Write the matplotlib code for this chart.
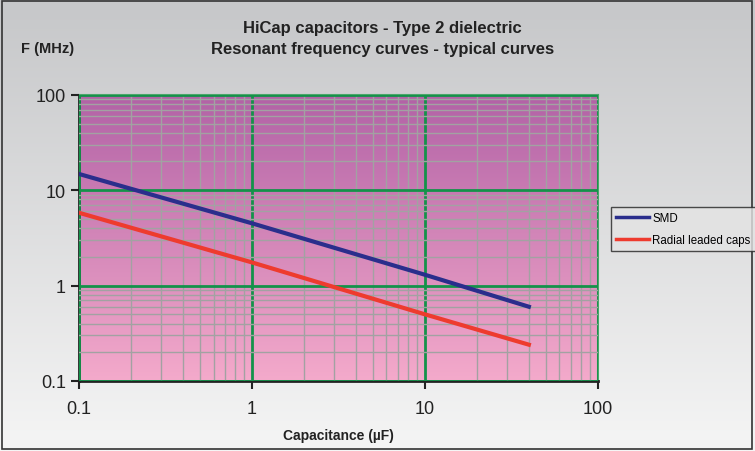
import numpy as np
import matplotlib.pyplot as plt
from matplotlib.colors import LinearSegmentedColormap
from matplotlib.ticker import LogLocator, FixedLocator, NullFormatter
from matplotlib.patches import Rectangle

# values (capacitance in uF, frequency in MHz)
cap = [0.1, 1, 10, 40]
smd = [14.8, 4.5, 1.3, 0.6]
radial = [5.8, 1.75, 0.5, 0.24]
xticks = [0.1, 1, 10, 100]
xticklabels = ["0.1", "1", "10", "100"]
yticks = [0.1, 1, 10, 100]
yticklabels = ["0.1", "1", "10", "100"]

plt.rcParams['font.family'] = ['Liberation Sans', 'DejaVu Sans']

fig = plt.figure(figsize=(7.55, 4.52), dpi=100)

# figure background gradient
bg = fig.add_axes([0, 0, 1, 1], zorder=-10)
bg_cmap = LinearSegmentedColormap.from_list("bg", ["#f5f5f5", "#c6c7c9"])
bg.imshow(np.linspace(0, 1, 256).reshape(-1, 1), cmap=bg_cmap, aspect='auto',
          origin='lower', extent=[0, 1, 0, 1])
bg.add_patch(Rectangle((0.002, 0.004), 0.994, 0.992, fill=False, ec="#333333", lw=1.2,
                       transform=bg.transAxes))
bg.set_xlim(0, 1)
bg.set_ylim(0, 1)
bg.axis('off')

ax = fig.add_axes([0.1046, 0.155, 0.687, 0.633])
ax.set_xscale('log')
ax.set_yscale('log')
ax.set_xlim(0.1, 100)
ax.set_ylim(0.1, 100)

pl_cmap = LinearSegmentedColormap.from_list("pl", ["#f4aacb", "#b262a6"])
ax.imshow(np.linspace(0, 1, 256).reshape(-1, 1), cmap=pl_cmap, aspect='auto',
          origin='lower', extent=[0, 1, 0, 1], transform=ax.transAxes, zorder=0)

ax.xaxis.set_major_locator(FixedLocator(xticks))
ax.yaxis.set_major_locator(FixedLocator(yticks))
ax.set_xticklabels(xticklabels)
ax.set_yticklabels(yticklabels)
ax.xaxis.set_minor_locator(LogLocator(base=10, subs=np.arange(2, 10)))
ax.yaxis.set_minor_locator(LogLocator(base=10, subs=np.arange(2, 10)))
ax.xaxis.set_minor_formatter(NullFormatter())
ax.yaxis.set_minor_formatter(NullFormatter())

ax.grid(which='minor', color='#a2a2a2', lw=1.0, zorder=1)
ax.grid(which='major', color='#14924a', lw=2.0, zorder=2)
ax.set_axisbelow(False)

ax.plot(cap, smd, color='#2a2e8c', lw=3, label='SMD', zorder=5)
ax.plot(cap, radial, color='#ee3b2e', lw=3, label='Radial leaded caps', zorder=5)

for s in ['top', 'right']:
    ax.spines[s].set_color('#4aa66a')
    ax.spines[s].set_linewidth(1.5)
for s in ['left', 'bottom']:
    ax.spines[s].set_color('#222222')
    ax.spines[s].set_linewidth(2)

ax.tick_params(which='major', direction='out', length=6, width=1.5, labelsize=13,
               colors='#222222')
ax.tick_params(which='minor', length=0)
ax.tick_params(axis='x', pad=8)

ax.set_xlabel('Capacitance (µF)', fontsize=10, fontweight='bold', color='#222222',
              labelpad=8)

fig.text(0.507, 0.938, 'HiCap capacitors - Type 2 dielectric', ha='center', va='center',
         fontsize=12, fontweight='bold', color='#222222')
fig.text(0.507, 0.891, 'Resonant frequency curves - typical curves', ha='center',
         va='center', fontsize=12, fontweight='bold', color='#222222')
fig.text(0.063, 0.891, 'F (MHz)', ha='center', va='center', fontsize=10.5,
         fontweight='bold', color='#222222')

leg = fig.legend(loc='upper left', bbox_to_anchor=(0.809, 0.540), fontsize=8.3,
                 frameon=True, fancybox=False, edgecolor='#222222',
                 facecolor='#e4e4e4', handlelength=2.9, borderpad=0.45,
                 labelspacing=0.85, handletextpad=0.25, borderaxespad=0)
leg.get_frame().set_linewidth(1)
for h in leg.get_lines():
    h.set_linewidth(2.5)

fig.savefig('out.png', dpi=100)
